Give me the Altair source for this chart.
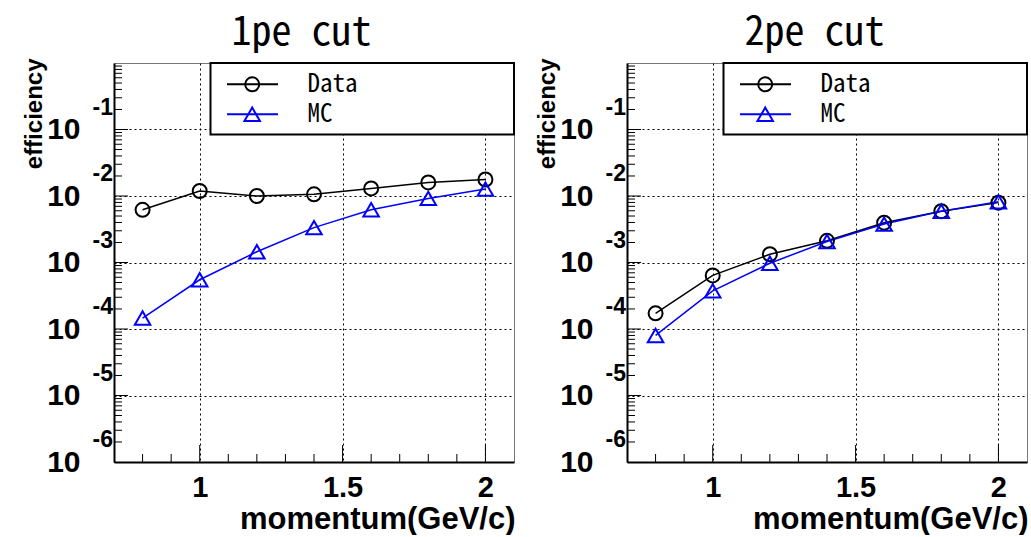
import altair as alt
import pandas as pd

# ---- data ----
momentum = [0.8, 1.0, 1.2, 1.4, 1.6, 1.8, 2.0]
eff_1pe_data = [6.2e-3, 1.19e-2, 1.0e-2, 1.06e-2, 1.30e-2, 1.60e-2, 1.77e-2]
eff_1pe_mc = [1.46e-4, 5.5e-4, 1.45e-3, 3.35e-3, 6.2e-3, 9.2e-3, 1.27e-2]
eff_2pe_data = [1.72e-4, 6.4e-4, 1.33e-3, 2.12e-3, 3.97e-3, 5.9e-3, 7.95e-3]
eff_2pe_mc = [8.0e-5, 3.74e-4, 9.75e-4, 2.07e-3, 3.78e-3, 5.9e-3, 8.2e-3]
panel_titles = ["1pe cut", "2pe cut"]
series_names = ["Data", "MC"]

# axis structure
decade_exps = [-1, -2, -3, -4, -5, -6]
x_major = [1.0, 1.5, 2.0]
x_minor = [0.8, 0.9, 1.1, 1.2, 1.3, 1.4, 1.6, 1.7, 1.8, 1.9]
y_minor = [k * 10.0 ** e for e in range(-6, 0) for k in range(2, 10)]
y_major = [10.0 ** e for e in range(-5, 0)]

SANS = "Liberation Sans"
MONO = "Noto Sans Mono CJK JP, DejaVu Sans Mono, monospace"
W, H = 400, 399


def panel(title, data_vals, mc_vals):
    df = pd.DataFrame({
        "p": momentum * 2,
        "eff": data_vals + mc_vals,
        "series": [series_names[0]] * len(momentum) + [series_names[1]] * len(momentum),
    })
    xs = alt.Scale(domain=[0.7, 2.1], nice=False, zero=False)
    ys = alt.Scale(type="log", domain=[1e-6, 1], nice=False)
    xax = alt.Axis(
        values=x_major, labelExpr="datum.value + ''", labelFont=SANS, labelFontSize=29,
        labelFontWeight="bold", labelColor="black", labelBaseline="alphabetic",
        labelPadding=34, labelAngle=0, labelFlush=False, ticks=False,
        grid=True, gridColor="black", gridDash=[2, 3], gridWidth=1, gridOpacity=1,
        domainColor="black", domainWidth=2,
        title="momentum(GeV/c)", titleFont=SANS, titleFontSize=31, titleFontWeight="bold",
        titleColor="black", titleAlign="right", titleBaseline="alphabetic",
        titleX=401, titleY=66, titleAnchor="end",
    )
    yax = alt.Axis(
        values=[10.0 ** e for e in decade_exps], labelExpr="'10'", labelFont=SANS,
        labelFontSize=30, labelFontWeight="bold", labelColor="black", labelPadding=34,
        labelFlush=False, labelOverlap=False, ticks=False,
        grid=True, gridColor="black", gridDash=[2, 3], gridWidth=1, gridOpacity=1,
        domainColor="black", domainWidth=2,
        title="efficiency", titleFont=SANS, titleFontSize=24, titleFontWeight="bold",
        titleColor="black", titleAngle=270, titleAlign="right", titleBaseline="alphabetic",
        titleX=-73, titleY=-5,
    )
    X = alt.X("p:Q", scale=xs, axis=xax)
    Y = alt.Y("eff:Q", scale=ys, axis=yax)
    base = alt.Chart(df)
    layers = []
    layers.append(
        base.transform_filter(alt.datum.series == "Data")
        .mark_line(color="black", strokeWidth=1.5).encode(x=X, y=Y)
    )
    layers.append(
        base.transform_filter(alt.datum.series == "MC")
        .mark_line(color="#0000ff", strokeWidth=1.5).encode(x=X, y=Y)
    )
    layers.append(
        base.transform_filter(alt.datum.series == "Data")
        .mark_point(shape="circle", filled=False, color="black", strokeWidth=2, size=196, opacity=1)
        .encode(x=X, y=Y)
    )
    layers.append(
        base.transform_filter(alt.datum.series == "MC")
        .mark_point(shape="triangle-up", filled=False, color="#0000ff", strokeWidth=2, size=240, opacity=1)
        .encode(x=X, y=Y)
    )
    # inward ticks
    layers.append(
        alt.Chart(pd.DataFrame({"eff": y_minor})).mark_rule(color="black", strokeWidth=1)
        .encode(y=Y, x=alt.value(0), x2=alt.value(8))
    )
    layers.append(
        alt.Chart(pd.DataFrame({"eff": y_major})).mark_rule(color="black", strokeWidth=1)
        .encode(y=Y, x=alt.value(0), x2=alt.value(14))
    )
    layers.append(
        alt.Chart(pd.DataFrame({"p": x_minor})).mark_rule(color="black", strokeWidth=1)
        .encode(x=X, y=alt.value(H), y2=alt.value(H - 8))
    )
    layers.append(
        alt.Chart(pd.DataFrame({"p": x_major})).mark_rule(color="black", strokeWidth=1)
        .encode(x=X, y=alt.value(H), y2=alt.value(H - 17))
    )
    # exponents of the 10^n labels
    layers.append(
        alt.Chart(pd.DataFrame({"eff": [10.0 ** e for e in decade_exps],
                                "lab": [str(e) for e in decade_exps]}))
        .mark_text(align="right", baseline="alphabetic", dy=-15, font=SANS, fontSize=23,
                   fontWeight="bold", color="black")
        .encode(y=Y, x=alt.value(-1), text="lab:N")
    )
    # panel title
    layers.append(
        alt.Chart(pd.DataFrame({"title": [title]}))
        .mark_text(align="center", baseline="alphabetic", font=MONO, fontSize=40, color="black")
        .encode(x=alt.value(187.5), y=alt.value(-17.7), text="title:N")
    )
    # legend
    box_df = pd.DataFrame({"series": [series_names[0]]})
    layers.append(
        alt.Chart(box_df).mark_rect(fill="white", stroke="black", strokeWidth=2)
        .encode(x=alt.value(96.5), x2=alt.value(W), y=alt.value(0), y2=alt.value(71.5))
    )
    for name, color, shape, size, ypix in [
        (series_names[0], "black", "circle", 196, 21.3),
        (series_names[1], "#0000ff", "triangle-up", 240, 51.3),
    ]:
        row = alt.Chart(pd.DataFrame({"series": [name]}))
        layers.append(row.mark_rule(color=color, strokeWidth=2)
                      .encode(x=alt.value(113), x2=alt.value(164), y=alt.value(ypix)))
        layers.append(row.mark_point(shape=shape, filled=False, color=color, strokeWidth=2,
                                     size=size, opacity=1)
                      .encode(x=alt.value(138.2), y=alt.value(ypix)))
        layers.append(row.mark_text(align="left", baseline="middle", font=MONO, fontSize=25,
                                    color="black")
                      .encode(x=alt.value(193.5), y=alt.value(ypix), text="series:N"))
    return alt.layer(*layers).properties(width=W, height=H)


chart = alt.hconcat(
    panel(panel_titles[0], eff_1pe_data, eff_1pe_mc),
    panel(panel_titles[1], eff_2pe_data, eff_2pe_mc),
    spacing=113, bounds="flush",
).properties(
    padding={"left": 21, "top": 12, "right": 0, "bottom": 0},
    background="white",
).configure_view(stroke="#777777", strokeWidth=1)

chart.save("out.html", embed_options={"renderer": "svg", "actions": False})
